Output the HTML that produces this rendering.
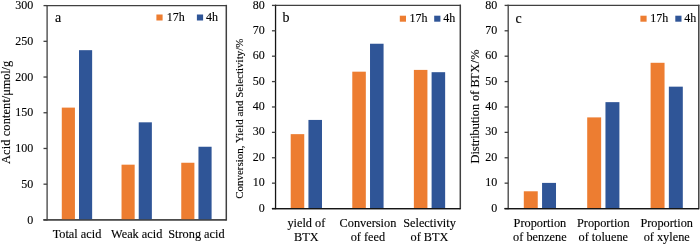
<!DOCTYPE html>
<html><head><meta charset="utf-8"><style>
html,body{margin:0;padding:0;background:#fff;width:700px;height:244px;overflow:hidden}
svg{display:block;will-change:transform}
text{font-family:"Liberation Serif", serif;fill:#000;stroke:#000;stroke-width:0.12px}
</style></head><body>
<svg width="700" height="244" viewBox="0 0 700 244">
<rect width="700" height="244" fill="#fff"/>
<line x1="47.10" y1="5.60" x2="226.30" y2="5.60" stroke="#404040" stroke-width="1.3" stroke-linecap="square"/>
<line x1="226.30" y1="5.60" x2="226.30" y2="219.90" stroke="#404040" stroke-width="1.5" stroke-linecap="square"/>
<line x1="47.10" y1="5.60" x2="47.10" y2="219.90" stroke="#404040" stroke-width="1.3" stroke-linecap="square"/>
<line x1="43.50" y1="219.90" x2="226.30" y2="219.90" stroke="#404040" stroke-width="1.3"/>
<line x1="43.50" y1="219.90" x2="47.10" y2="219.90" stroke="#404040" stroke-width="1.3"/>
<text x="33.20" y="223.50" font-size="12" text-anchor="end">0</text>
<line x1="43.50" y1="184.18" x2="47.10" y2="184.18" stroke="#404040" stroke-width="1.3"/>
<text x="33.20" y="187.78" font-size="12" text-anchor="end">50</text>
<line x1="43.50" y1="148.47" x2="47.10" y2="148.47" stroke="#404040" stroke-width="1.3"/>
<text x="33.20" y="152.07" font-size="12" text-anchor="end">100</text>
<line x1="43.50" y1="112.75" x2="47.10" y2="112.75" stroke="#404040" stroke-width="1.3"/>
<text x="33.20" y="116.35" font-size="12" text-anchor="end">150</text>
<line x1="43.50" y1="77.03" x2="47.10" y2="77.03" stroke="#404040" stroke-width="1.3"/>
<text x="33.20" y="80.63" font-size="12" text-anchor="end">200</text>
<line x1="43.50" y1="41.32" x2="47.10" y2="41.32" stroke="#404040" stroke-width="1.3"/>
<text x="33.20" y="44.92" font-size="12" text-anchor="end">250</text>
<line x1="43.50" y1="5.60" x2="47.10" y2="5.60" stroke="#404040" stroke-width="1.3"/>
<text x="33.20" y="9.20" font-size="12" text-anchor="end">300</text>
<rect x="61.79" y="107.61" width="13.14" height="112.29" fill="#ED7D31"/>
<rect x="79.00" y="50.17" width="13.14" height="169.73" fill="#2F5597"/>
<text x="76.97" y="237.80" font-size="12.3" text-anchor="middle">Total acid</text>
<rect x="121.53" y="164.68" width="13.14" height="55.22" fill="#ED7D31"/>
<rect x="138.73" y="122.32" width="13.14" height="97.58" fill="#2F5597"/>
<text x="136.70" y="237.80" font-size="12.3" text-anchor="middle">Weak acid</text>
<rect x="181.26" y="162.75" width="13.14" height="57.15" fill="#ED7D31"/>
<rect x="198.46" y="146.75" width="13.14" height="73.15" fill="#2F5597"/>
<text x="196.43" y="237.80" font-size="12.3" text-anchor="middle">Strong acid</text>
<line x1="43.50" y1="219.90" x2="226.30" y2="219.90" stroke="#404040" stroke-width="1.3"/>
<text x="55.00" y="22.00" font-size="14" text-anchor="start">a</text>
<rect x="156.40" y="14.50" width="6.20" height="6.00" fill="#ED7D31"/>
<text x="166.80" y="20.80" font-size="12" text-anchor="start">17h</text>
<rect x="196.90" y="14.50" width="6.20" height="6.00" fill="#2F5597"/>
<text x="205.90" y="20.80" font-size="12" text-anchor="start">4h</text>
<text x="9.80" y="163.95" font-size="12.4" text-anchor="start" transform="rotate(-90 9.80 163.95)" textLength="64.8" lengthAdjust="spacing">Acid content</text>
<text x="9.80" y="99.15" font-size="12.4" text-anchor="start" transform="rotate(-90 9.80 99.15)" textLength="38.25" lengthAdjust="spacing">/μmol/g</text>
<line x1="275.55" y1="5.40" x2="460.30" y2="5.40" stroke="#404040" stroke-width="1.3" stroke-linecap="square"/>
<line x1="460.30" y1="5.40" x2="460.30" y2="208.55" stroke="#404040" stroke-width="1.5" stroke-linecap="square"/>
<line x1="275.55" y1="5.40" x2="275.55" y2="208.55" stroke="#151515" stroke-width="1.3" stroke-linecap="square"/>
<line x1="271.95" y1="208.55" x2="460.30" y2="208.55" stroke="#151515" stroke-width="1.3"/>
<line x1="271.95" y1="208.55" x2="275.55" y2="208.55" stroke="#404040" stroke-width="1.3"/>
<text x="264.80" y="211.65" font-size="12" text-anchor="end">0</text>
<line x1="271.95" y1="183.16" x2="275.55" y2="183.16" stroke="#404040" stroke-width="1.3"/>
<text x="264.80" y="186.26" font-size="12" text-anchor="end">10</text>
<line x1="271.95" y1="157.76" x2="275.55" y2="157.76" stroke="#404040" stroke-width="1.3"/>
<text x="264.80" y="160.86" font-size="12" text-anchor="end">20</text>
<line x1="271.95" y1="132.37" x2="275.55" y2="132.37" stroke="#404040" stroke-width="1.3"/>
<text x="264.80" y="135.47" font-size="12" text-anchor="end">30</text>
<line x1="271.95" y1="106.98" x2="275.55" y2="106.98" stroke="#404040" stroke-width="1.3"/>
<text x="264.80" y="110.08" font-size="12" text-anchor="end">40</text>
<line x1="271.95" y1="81.58" x2="275.55" y2="81.58" stroke="#404040" stroke-width="1.3"/>
<text x="264.80" y="84.68" font-size="12" text-anchor="end">50</text>
<line x1="271.95" y1="56.19" x2="275.55" y2="56.19" stroke="#404040" stroke-width="1.3"/>
<text x="264.80" y="59.29" font-size="12" text-anchor="end">60</text>
<line x1="271.95" y1="30.79" x2="275.55" y2="30.79" stroke="#404040" stroke-width="1.3"/>
<text x="264.80" y="33.89" font-size="12" text-anchor="end">70</text>
<line x1="271.95" y1="5.40" x2="275.55" y2="5.40" stroke="#404040" stroke-width="1.3"/>
<text x="264.80" y="8.50" font-size="12" text-anchor="end">80</text>
<rect x="290.70" y="134.15" width="13.55" height="74.40" fill="#ED7D31"/>
<rect x="308.44" y="119.93" width="13.55" height="88.62" fill="#2F5597"/>
<text x="306.34" y="226.60" font-size="12.3" text-anchor="middle">yield of</text>
<text x="306.34" y="240.50" font-size="12.3" text-anchor="middle">BTX</text>
<rect x="352.28" y="71.68" width="13.55" height="136.87" fill="#ED7D31"/>
<rect x="370.02" y="43.74" width="13.55" height="164.81" fill="#2F5597"/>
<text x="367.93" y="226.60" font-size="12.3" text-anchor="middle">Conversion</text>
<text x="367.93" y="240.50" font-size="12.3" text-anchor="middle">of feed</text>
<rect x="413.87" y="69.90" width="13.55" height="138.65" fill="#ED7D31"/>
<rect x="431.60" y="72.19" width="13.55" height="136.36" fill="#2F5597"/>
<text x="429.51" y="226.60" font-size="12.3" text-anchor="middle">Selectivity</text>
<text x="429.51" y="240.50" font-size="12.3" text-anchor="middle">of BTX</text>
<line x1="271.95" y1="208.55" x2="460.30" y2="208.55" stroke="#151515" stroke-width="1.3"/>
<text x="282.60" y="21.50" font-size="14" text-anchor="start">b</text>
<rect x="399.80" y="15.70" width="6.20" height="6.00" fill="#ED7D31"/>
<text x="409.60" y="21.90" font-size="12" text-anchor="start">17h</text>
<rect x="434.20" y="15.70" width="6.20" height="6.00" fill="#2F5597"/>
<text x="443.20" y="21.90" font-size="12" text-anchor="start">4h</text>
<text x="243.50" y="118.70" font-size="11" text-anchor="middle" transform="rotate(-90 243.50 118.70)">Conversion, Yield and Selectivity/%</text>
<line x1="508.20" y1="5.40" x2="698.80" y2="5.40" stroke="#404040" stroke-width="1.3" stroke-linecap="square"/>
<line x1="698.80" y1="5.40" x2="698.80" y2="208.55" stroke="#404040" stroke-width="1.5" stroke-linecap="square"/>
<line x1="508.20" y1="5.40" x2="508.20" y2="208.55" stroke="#404040" stroke-width="1.3" stroke-linecap="square"/>
<line x1="504.60" y1="208.55" x2="698.80" y2="208.55" stroke="#151515" stroke-width="1.3"/>
<line x1="504.60" y1="208.55" x2="508.20" y2="208.55" stroke="#404040" stroke-width="1.3"/>
<text x="497.30" y="211.65" font-size="12" text-anchor="end">0</text>
<line x1="504.60" y1="183.16" x2="508.20" y2="183.16" stroke="#404040" stroke-width="1.3"/>
<text x="497.30" y="186.26" font-size="12" text-anchor="end">10</text>
<line x1="504.60" y1="157.76" x2="508.20" y2="157.76" stroke="#404040" stroke-width="1.3"/>
<text x="497.30" y="160.86" font-size="12" text-anchor="end">20</text>
<line x1="504.60" y1="132.37" x2="508.20" y2="132.37" stroke="#404040" stroke-width="1.3"/>
<text x="497.30" y="135.47" font-size="12" text-anchor="end">30</text>
<line x1="504.60" y1="106.98" x2="508.20" y2="106.98" stroke="#404040" stroke-width="1.3"/>
<text x="497.30" y="110.08" font-size="12" text-anchor="end">40</text>
<line x1="504.60" y1="81.58" x2="508.20" y2="81.58" stroke="#404040" stroke-width="1.3"/>
<text x="497.30" y="84.68" font-size="12" text-anchor="end">50</text>
<line x1="504.60" y1="56.19" x2="508.20" y2="56.19" stroke="#404040" stroke-width="1.3"/>
<text x="497.30" y="59.29" font-size="12" text-anchor="end">60</text>
<line x1="504.60" y1="30.79" x2="508.20" y2="30.79" stroke="#404040" stroke-width="1.3"/>
<text x="497.30" y="33.89" font-size="12" text-anchor="end">70</text>
<line x1="504.60" y1="5.40" x2="508.20" y2="5.40" stroke="#404040" stroke-width="1.3"/>
<text x="497.30" y="8.50" font-size="12" text-anchor="end">80</text>
<rect x="523.80" y="191.28" width="13.95" height="17.27" fill="#ED7D31"/>
<rect x="542.06" y="182.90" width="13.95" height="25.65" fill="#2F5597"/>
<text x="539.90" y="226.80" font-size="12.3" text-anchor="middle">Proportion</text>
<text x="539.90" y="240.70" font-size="12.3" text-anchor="middle">of benzene</text>
<rect x="587.20" y="117.39" width="13.95" height="91.16" fill="#ED7D31"/>
<rect x="605.46" y="102.15" width="13.95" height="106.40" fill="#2F5597"/>
<text x="603.30" y="226.80" font-size="12.3" text-anchor="middle">Proportion</text>
<text x="603.30" y="240.70" font-size="12.3" text-anchor="middle">of toluene</text>
<rect x="650.60" y="62.79" width="13.95" height="145.76" fill="#ED7D31"/>
<rect x="668.86" y="86.66" width="13.95" height="121.89" fill="#2F5597"/>
<text x="666.70" y="226.80" font-size="12.3" text-anchor="middle">Proportion</text>
<text x="666.70" y="240.70" font-size="12.3" text-anchor="middle">of xylene</text>
<line x1="504.60" y1="208.55" x2="698.80" y2="208.55" stroke="#151515" stroke-width="1.3"/>
<text x="515.60" y="23.20" font-size="14" text-anchor="start">c</text>
<rect x="640.40" y="15.70" width="6.20" height="6.00" fill="#ED7D31"/>
<text x="650.30" y="21.90" font-size="12" text-anchor="start">17h</text>
<rect x="675.30" y="15.70" width="6.20" height="6.00" fill="#2F5597"/>
<text x="684.30" y="21.90" font-size="12" text-anchor="start">4h</text>
<text x="479.50" y="163.45" font-size="12.3" text-anchor="start" transform="rotate(-90 479.50 163.45)" textLength="84.1" lengthAdjust="spacing">Distribution of B</text>
<text x="479.50" y="80.65" font-size="12.3" text-anchor="start" transform="rotate(-90 479.50 80.65)" textLength="31.05" lengthAdjust="spacing">TX/%</text>
</svg>
</body></html>
